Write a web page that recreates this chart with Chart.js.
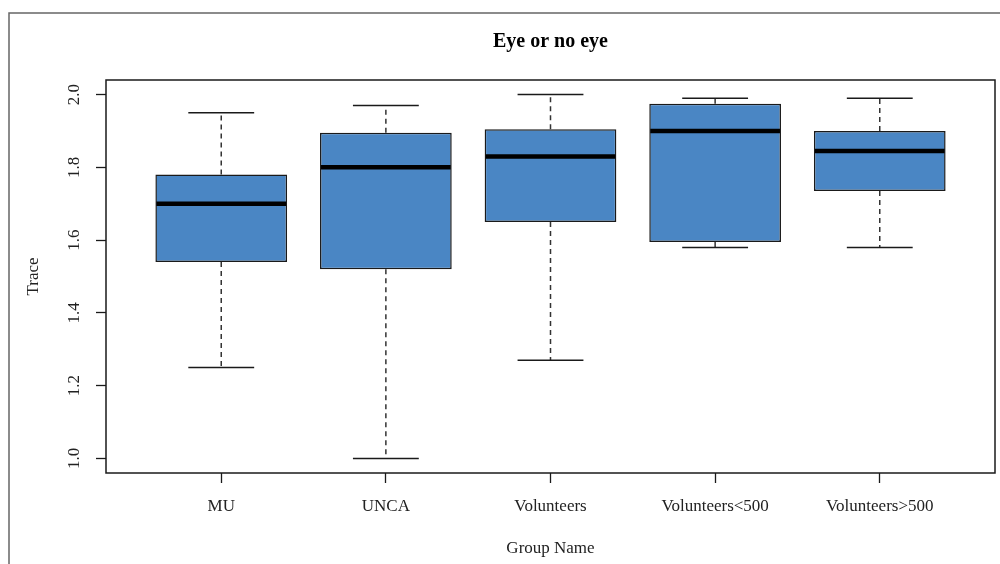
<!DOCTYPE html>
<html lang="en">
<head>
<meta charset="UTF-8">
<title>Eye or no eye</title>
<script src="https://cdn.jsdelivr.net/npm/chart.js"></script>
<style>
  html, body { margin: 0; padding: 0; background: #fff; }
  #wrap { width: 1000px; height: 564px; }
</style>
</head>
<body>
<div id="wrap"><canvas id="chart"></canvas></div>
<script>
  // values
  const groups = ['MU', 'UNCA', 'Volunteers', 'Volunteers<500', 'Volunteers>500'];
  const whiskerLow = [1.25, 1.00, 1.27, 1.58, 1.58];
  const quartile1 = [1.54, 1.52, 1.65, 1.595, 1.735];
  const medians = [1.70, 1.80, 1.83, 1.90, 1.845];
  const quartile3 = [1.78, 1.895, 1.905, 1.975, 1.90];
  const whiskerHigh = [1.95, 1.97, 2.00, 1.99, 1.99];
  const yTicks = [1.0, 1.2, 1.4, 1.6, 1.8, 2.0];

  const FONT = "'Liberation Serif', 'DejaVu Serif', serif";
  const INK = '#1a1a1a';

  // whiskers, caps, medians and the frames, all placed through the chart scales
  const boxParts = {
    id: 'boxParts',
    beforeDraw(chart) {
      const ctx = chart.ctx;
      ctx.save();
      ctx.fillStyle = '#fff';
      ctx.fillRect(0, 0, chart.width, chart.height);
      ctx.strokeStyle = '#666';
      ctx.lineWidth = 1.5;
      ctx.beginPath();
      ctx.moveTo(9, chart.height);
      ctx.lineTo(9, 13);
      ctx.lineTo(chart.width, 13);
      ctx.stroke();
      ctx.restore();
    },
    beforeDatasetsDraw(chart) {
      const { ctx, scales: { x, y } } = chart;
      ctx.save();
      groups.forEach((g, i) => {
        const cx = x.getPixelForValue(i + 1);
        const capHalf = x.getPixelForValue(1.2) - x.getPixelForValue(1);
        ctx.strokeStyle = '#333';
        ctx.lineWidth = 1.5;
        ctx.setLineDash([5, 4]);
        ctx.beginPath();
        ctx.moveTo(cx, y.getPixelForValue(quartile3[i]));
        ctx.lineTo(cx, y.getPixelForValue(whiskerHigh[i]));
        ctx.moveTo(cx, y.getPixelForValue(quartile1[i]));
        ctx.lineTo(cx, y.getPixelForValue(whiskerLow[i]));
        ctx.stroke();
        ctx.setLineDash([]);
        ctx.strokeStyle = INK;
        ctx.beginPath();
        [whiskerHigh[i], whiskerLow[i]].forEach(v => {
          const py = y.getPixelForValue(v);
          ctx.moveTo(cx - capHalf, py);
          ctx.lineTo(cx + capHalf, py);
        });
        ctx.stroke();
      });
      ctx.restore();
    },
    afterDatasetsDraw(chart) {
      const { ctx, scales: { y } } = chart;
      const bars = chart.getDatasetMeta(0).data;
      ctx.save();
      ctx.strokeStyle = '#000';
      ctx.lineWidth = 4.5;
      bars.forEach((bar, i) => {
        const half = bar.width / 2;
        const py = y.getPixelForValue(medians[i]);
        ctx.beginPath();
        ctx.moveTo(bar.x - half + 1, py);
        ctx.lineTo(bar.x + half - 1, py);
        ctx.stroke();
      });
      const a = chart.chartArea;
      ctx.strokeStyle = INK;
      ctx.lineWidth = 1.5;
      ctx.strokeRect(a.left, a.top, a.right - a.left, a.bottom - a.top);
      ctx.restore();
    }
  };

  new Chart(document.getElementById('chart'), {
    type: 'bar',
    data: {
      datasets: [{
        data: groups.map((g, i) => ({ x: i + 1, y: [quartile1[i], quartile3[i]] })),
        backgroundColor: '#4a86c4',
        borderColor: INK,
        borderWidth: 1.5,
        borderSkipped: false,
        categoryPercentage: 1,
        barPercentage: 0.8
      }]
    },
    options: {
      responsive: true,
      maintainAspectRatio: false,
      animation: false,
      layout: { padding: { left: 0, right: 5, top: 0, bottom: 0 } },
      plugins: {
        legend: { display: false },
        tooltip: { enabled: false },
        title: {
          display: true,
          fullSize: false,
          text: 'Eye or no eye',
          color: '#000',
          font: { family: FONT, size: 20, weight: 'bold' },
          padding: { top: 30, bottom: 26 }
        }
      },
      scales: {
        x: {
          type: 'linear',
          min: 0.3,
          max: 5.7,
          offset: false,
          afterBuildTicks: s => { s.ticks = groups.map((g, i) => ({ value: i + 1 })); },
          afterFit: s => { s.height = 91; },
          border: { display: false },
          grid: { offset: false, drawOnChartArea: false, drawTicks: true, tickLength: 10, tickColor: INK, tickWidth: 1.3 },
          ticks: {
            autoSkip: false, maxRotation: 0, padding: 13, color: '#222',
            font: { family: FONT, size: 17 },
            callback: (v, i) => groups[i]
          },
          title: {
            display: true, text: 'Group Name', color: '#222',
            font: { family: FONT, size: 17 },
            padding: { top: 0, bottom: 5 }
          }
        },
        y: {
          min: 0.96,
          max: 2.04,
          afterBuildTicks: s => { s.ticks = yTicks.map(v => ({ value: v })); },
          afterFit: s => { s.width = 106; },
          border: { display: false },
          grid: { drawOnChartArea: false, drawTicks: true, tickLength: 10, tickColor: INK, tickWidth: 1.3 },
          ticks: {
            minRotation: 90, maxRotation: 90, crossAlign: 'center', padding: 11, color: '#222',
            font: { family: FONT, size: 17 },
            callback: v => v.toFixed(1)
          },
          title: {
            display: true, text: 'Trace', color: '#222',
            font: { family: FONT, size: 17 },
            padding: { top: 23, bottom: 0 }
          }
        }
      }
    },
    plugins: [boxParts]
  });
</script>
</body>
</html>
